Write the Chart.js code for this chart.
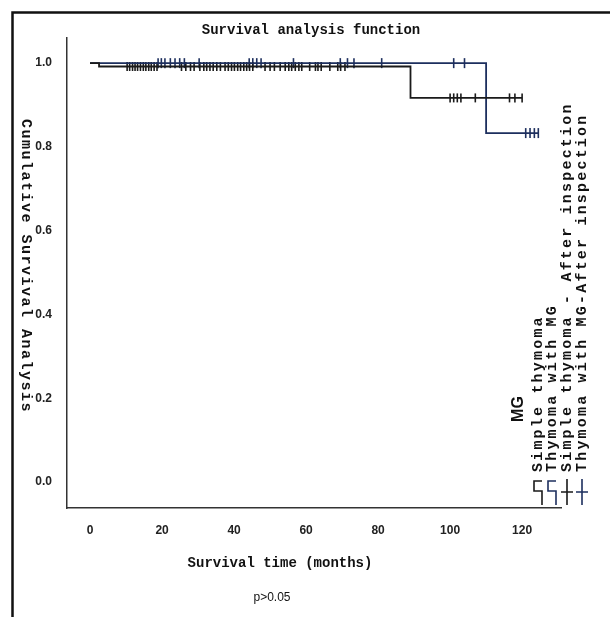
<!DOCTYPE html>
<html lang="en">
<head>
<meta charset="UTF-8">
<title>Survival analysis function</title>
<script src="https://cdn.jsdelivr.net/npm/chart.js@4"></script>
<style>
  body { margin: 0; background: #fff; }
  #wrap { width: 610px; height: 617px; position: relative; }
</style>
</head>
<body>
<div id="wrap"><canvas id="km"></canvas></div>
<script>
// axis ticks
const xTicks = [0, 20, 40, 60, 80, 100, 120];
const yTicks = [0, 0.2, 0.4, 0.6, 0.8, 1.0];

const groupNames = ['Simple thymoma', 'Thymoma with MG',
  'Simple thymoma - After inspection', 'Thymoma with MG-After inspection'];

// Kaplan-Meier steps (months, cumulative survival)
const simpleTimes = [0, 2.5, 89, 120];
const simpleSurv = [1, 0.992, 0.917, 0.917];
const mgTimes = [0, 110, 124.5];
const mgSurv = [1, 0.833, 0.833];

// censored cases (months)
const simpleCensor = [10.3, 11.0, 11.8, 12.5, 13.2, 14.0, 14.8, 15.5, 16.3, 17.0, 17.8, 18.6,
  25.4, 26.6, 27.9, 28.9, 30.5, 31.6, 32.4, 33.3, 34.2, 35.2, 36.2,
  37.5, 38.4, 39.3, 40.1, 41.0, 41.8, 42.7, 43.5, 44.3, 45.2,
  48.6, 50.0, 51.2, 52.8, 54.2, 55.2, 56.0, 57.0, 58.0, 58.8,
  61.0, 62.6, 63.3, 64.2, 66.6, 68.8, 69.6, 70.8,
  100.0, 101.0, 102.0, 103.0, 107.0, 116.5, 118.0, 120.0];
const mgCensor = [18.9, 19.8, 20.8, 22.3, 23.6, 24.9, 26.2, 30.3, 44.2, 45.2, 46.3, 47.5,
  56.5, 69.5, 71.5, 73.3, 81.0, 101.0, 104.0, 121.0, 122.2, 123.4, 124.5];

const BLACK = '#1a1a1a';
const NAVY = '#1d2f5e';

function survAt(times, surv, t) {
  let s = surv[0];
  for (let i = 0; i < times.length; i++) if (times[i] <= t) s = surv[i];
  return s;
}
const pts = (times, surv) => times.map((t, i) => ({ x: t, y: surv[i] }));
const censorPts = (c, times, surv) => c.map(t => ({ x: t, y: survAt(times, surv, t) }));

const mono = '"Liberation Mono", "DejaVu Sans Mono", monospace';
const narrow = '"Liberation Sans Narrow", "Liberation Sans", Arial, sans-serif';

const textPlugin = {
  id: 'texts',
  afterDraw(chart) {
    const ctx = chart.ctx;
    ctx.save();
    // frame
    ctx.strokeStyle = '#111';
    ctx.lineWidth = 2.5;
    ctx.beginPath();
    ctx.moveTo(12.5, 617);
    ctx.lineTo(12.5, 12.5);
    ctx.lineTo(610, 12.5);
    ctx.stroke();

    ctx.fillStyle = '#111';
    ctx.textAlign = 'center';
    ctx.textBaseline = 'middle';
    ctx.font = 'bold 14px ' + mono;
    ctx.fillText('Survival analysis function', 311, 30);
    ctx.fillText('Survival time (months)', 280, 563);
    ctx.font = '12px ' + narrow;
    ctx.fillText('p>0.05', 272, 598);

    // y title, reading top to bottom
    ctx.save();
    ctx.translate(26, 266);
    ctx.rotate(Math.PI / 2);
    ctx.font = 'bold 15px ' + mono;
    ctx.letterSpacing = '1.5px';
    ctx.fillText('Cumulative Survival Analysis', 0, 0);
    ctx.restore();

    // legend
    ctx.save();
    ctx.translate(519, 409);
    ctx.rotate(-Math.PI / 2);
    ctx.font = 'bold 16px ' + narrow;
    ctx.fillText('MG', 0, 0);
    ctx.restore();

    const cols = [538, 552, 567, 582];
    groupNames.forEach((name, i) => {
      ctx.save();
      ctx.translate(cols[i], 472);
      ctx.rotate(-Math.PI / 2);
      ctx.textAlign = 'left';
      ctx.font = 'bold 15px ' + mono;
      ctx.letterSpacing = '2.2px';
      ctx.fillStyle = '#111';
      ctx.fillText(name, 0, 0);
      ctx.restore();

      const c = cols[i];
      ctx.strokeStyle = (i % 2) ? NAVY : BLACK;
      ctx.lineWidth = 1.6;
      ctx.beginPath();
      if (i < 2) {
        ctx.moveTo(c + 4, 481);
        ctx.lineTo(c - 4, 481);
        ctx.lineTo(c - 4, 491);
        ctx.lineTo(c + 4, 491);
        ctx.lineTo(c + 4, 505);
      } else {
        ctx.moveTo(c, 479);
        ctx.lineTo(c, 505);
        ctx.moveTo(c - 6, 492);
        ctx.lineTo(c + 6, 492);
      }
      ctx.stroke();
    });
    ctx.restore();
  }
};

const tickFont = { family: narrow, size: 12, weight: 'bold' };

new Chart(document.getElementById('km'), {
  type: 'scatter',
  data: {
    datasets: [
      { label: groupNames[0], data: pts(simpleTimes, simpleSurv), showLine: true, stepped: 'before',
        borderColor: BLACK, borderWidth: 1.8, pointRadius: 0 },
      { label: groupNames[1], data: pts(mgTimes, mgSurv), showLine: true, stepped: 'before',
        borderColor: NAVY, borderWidth: 1.8, pointRadius: 0 },
      { label: groupNames[2], data: censorPts(simpleCensor, simpleTimes, simpleSurv),
        pointStyle: 'line', rotation: 90, pointRadius: 4.5, borderColor: BLACK, borderWidth: 1.6 },
      { label: groupNames[3], data: censorPts(mgCensor, mgTimes, mgSurv),
        pointStyle: 'line', rotation: 90, pointRadius: 5, borderColor: NAVY, borderWidth: 1.6 }
    ]
  },
  options: {
    responsive: true,
    maintainAspectRatio: false,
    animation: false,
    devicePixelRatio: 1,
    layout: { padding: { top: 38, right: 49, left: 0, bottom: 0 } },
    plugins: { legend: { display: false }, title: { display: false }, tooltip: { enabled: false } },
    scales: {
      x: {
        type: 'linear', min: -6.4, max: 130.8,
        grid: { display: false, drawTicks: false },
        border: { display: true, color: '#333', width: 1.5 },
        ticks: { font: tickFont, color: '#222', padding: 15, maxRotation: 0 },
        afterBuildTicks: axis => { axis.ticks = xTicks.map(v => ({ value: v })); },
        afterFit: axis => { axis.height = 109; }
      },
      y: {
        type: 'linear', min: -0.062, max: 1.06,
        grid: { display: false, drawTicks: false },
        border: { display: true, color: '#333', width: 1.5 },
        ticks: { font: tickFont, color: '#222', padding: 15, callback: v => v.toFixed(1) },
        afterBuildTicks: axis => { axis.ticks = yTicks.map(v => ({ value: v })); },
        afterFit: axis => { axis.width = 67; }
      }
    }
  },
  plugins: [textPlugin]
});
</script>
</body>
</html>
